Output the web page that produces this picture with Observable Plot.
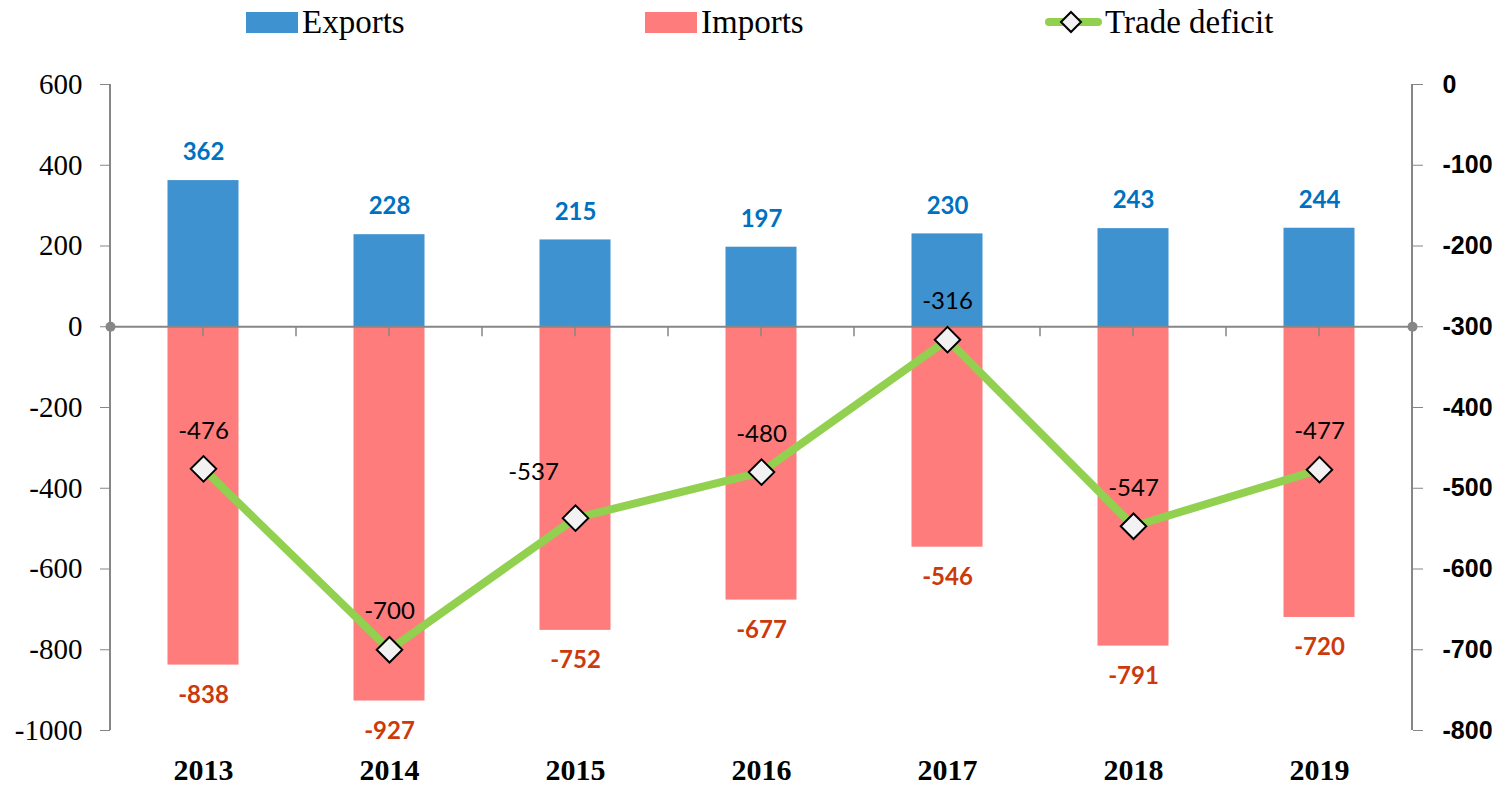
<!DOCTYPE html>
<html>
<head>
<meta charset="utf-8">
<script src="https://cdn.jsdelivr.net/npm/d3@7"></script>
<script src="https://cdn.jsdelivr.net/npm/@observablehq/plot@0.6"></script>
<style>
  body { margin: 0; background: #fff; }
  #wrap { position: relative; width: 1500px; height: 791px; }
  #legend { position: absolute; left: 0; top: 0; width: 1500px; height: 50px; font-family: "Liberation Serif", serif; font-size: 33px; color: #000; }
  .item { position: absolute; top: 0; height: 44px; display: flex; align-items: center; }
  .sw { width: 52px; height: 21px; margin-right: 4px; }
  #chart { position: absolute; left: 0; top: 50px; }
</style>
</head>
<body>
<div id="wrap">
  <div id="legend"></div>
  <div id="chart"></div>
</div>
<script>
const years = ["2013", "2014", "2015", "2016", "2017", "2018", "2019"];
const exportsVals = [362, 228, 215, 197, 230, 243, 244];
const importsVals = [-838, -927, -752, -677, -546, -791, -720];
const deficitVals = [-476, -700, -537, -480, -316, -547, -477];
const leftTicks = [600, 400, 200, 0, -200, -400, -600, -800, -1000];
const rightTicks = [0, -100, -200, -300, -400, -500, -600, -700, -800];
const seriesNames = ["Exports", "Imports", "Trade deficit"];

const colExports = "#3F92D0";
const colImports = "#FF7C7C";
const colLine = "#92D050";
const gray = "#868686";

// secondary axis mapping: right 0 -> left 600, right -800 -> left -1000
const toLeft = r => 600 + 2 * r;
const toRight = l => (l - 600) / 2;

const data = years.map((y, i) => ({
  year: y, exports: exportsVals[i], imports: importsVals[i], deficit: deficitVals[i], dl: toLeft(deficitVals[i])
}));

// Legend (HTML, above the SVG)
const legend = document.getElementById("legend");
legend.innerHTML = `
  <div class="item" style="left:246px"><div class="sw" style="background:${colExports}"></div>${seriesNames[0]}</div>
  <div class="item" style="left:645px"><div class="sw" style="background:${colImports}"></div>${seriesNames[1]}</div>
  <div class="item" style="left:1045px">
    <svg width="58" height="30" style="margin-right:2px">
      <line x1="4" y1="15" x2="53" y2="15" stroke="${colLine}" stroke-width="8" stroke-linecap="round"/>
      <path d="M26 5 L36 15 L26 25 L16 15 Z" fill="#F2F2F2" stroke="#000" stroke-width="2"/>
    </svg>${seriesNames[2]}</div>`;

const axisLines = (index, scales, values, dimensions) => {
  const g = d3.create("svg:g");
  const {width, marginLeft, marginRight} = dimensions;
  const y0 = scales.y(leftTicks[0]), y1 = scales.y(leftTicks[leftTicks.length - 1]);
  [marginLeft, width - marginRight].forEach(x => {
    g.append("line").attr("x1", x).attr("x2", x).attr("y1", y0).attr("y2", y1)
      .attr("stroke", gray).attr("stroke-width", 2);
  });
  // category tick marks along the zero line (centres and boundaries)
  const bw = scales.x.bandwidth ? scales.x.bandwidth() : 0;
  const yz = scales.y(0);
  years.forEach((yr, i) => {
    const xs = scales.x(yr);
    const pts = [xs + bw / 2];
    if (i > 0) pts.push(xs);
    pts.forEach(x => g.append("line").attr("x1", x).attr("x2", x).attr("y1", yz).attr("y2", yz + 10)
      .attr("stroke", gray).attr("stroke-width", 1.5));
  });
  return g.node();
};

const sansBold = "Lato, 'Open Sans', sans-serif";

const chart = Plot.plot({
  width: 1500,
  height: 741,
  marginLeft: 110,
  marginRight: 88,
  marginTop: 34,
  marginBottom: 61,
  style: { fontFamily: "Liberation Serif, serif", color: "#000", background: "#fff" },
  x: { type: "band", domain: years, padding: 0, label: null },
  y: { domain: [-1000, 600], label: null },
  marks: [
    Plot.barY(data, { x: "year", y: "exports", fill: colExports, insetLeft: 57.5, insetRight: 57.5 }),
    Plot.barY(data, { x: "year", y: "imports", fill: colImports, insetLeft: 57.5, insetRight: 57.5 }),
    Plot.ruleY([0], { stroke: gray, strokeWidth: 2 }),
    axisLines,
    Plot.dot([0], { y: d => d, frameAnchor: "left", r: 5, fill: gray }),
    Plot.dot([0], { y: d => d, frameAnchor: "right", r: 5, fill: gray }),
    Plot.axisY({ anchor: "left", ticks: leftTicks, tickFormat: d => String(d), tickSize: 10, tickPadding: 18,
      stroke: gray, fill: "#000", fontSize: 29, fontFamily: "Liberation Serif, serif", label: null }),
    Plot.axisY({ anchor: "right", ticks: rightTicks.map(toLeft), tickFormat: d => String(toRight(d)),
      tickSize: 10, tickPadding: 20, stroke: gray, fill: "#000",
      fontSize: 25, fontWeight: "bold", fontFamily: "Liberation Sans, Arial, sans-serif", label: null }),
    Plot.axisX({ tickSize: 0, tickPadding: 28, fill: "#000", fontSize: 30, fontWeight: "bold",
      fontFamily: "Liberation Serif, serif", label: null }),
    Plot.line(data, { x: "year", y: "dl", stroke: colLine, strokeWidth: 8 }),
    Plot.dot(data, { x: "year", y: "dl", symbol: "diamond2", r: 11.5, fill: "#F2F2F2", stroke: "#000", strokeWidth: 2 }),
    Plot.text(data, { x: "year", y: "exports", text: d => String(d.exports), dy: -28, fill: "#0070C0",
      fontSize: 24, fontWeight: "bold", fontFamily: sansBold }),
    Plot.text(data, { x: "year", y: "imports", text: d => String(d.imports), dy: 30, fill: "#CC3A0C",
      fontSize: 24, fontWeight: "bold", fontFamily: sansBold }),
    Plot.text(data.filter(d => d.year !== "2015"), { x: "year", y: "dl", text: d => String(d.deficit), dy: -38,
      fill: "#000", fontSize: 24, fontFamily: sansBold }),
    Plot.text(data.filter(d => d.year === "2015"), { x: "year", y: "dl", text: d => String(d.deficit), dx: -42, dy: -46,
      fill: "#000", fontSize: 24, fontFamily: sansBold })
  ]
});
document.getElementById("chart").appendChild(chart);
</script>
</body>
</html>
